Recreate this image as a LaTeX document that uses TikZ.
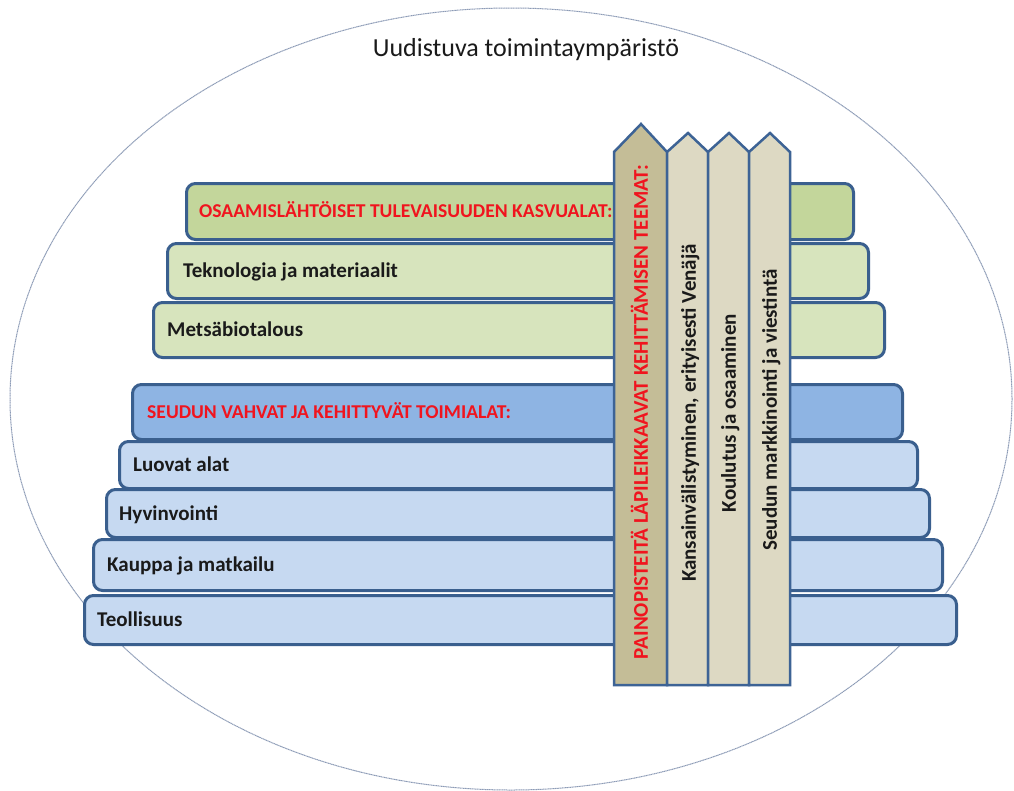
\documentclass[tikz,border=0pt]{standalone}
\usepackage{fontspec}
\setmainfont{Carlito}
\definecolor{gdark}{HTML}{C3D69B}
\definecolor{glight}{HTML}{D7E4BD}
\definecolor{bmid}{HTML}{8EB4E3}
\definecolor{blight}{HTML}{C6D9F1}
\definecolor{barline}{HTML}{3A5F8E}
\definecolor{pline}{HTML}{3D6395}
\definecolor{ptan}{HTML}{C4BD97}
\definecolor{plight}{HTML}{DDD9C3}
\definecolor{redtxt}{HTML}{F0141E}
\definecolor{ellcol}{HTML}{8C9BB6}
\definecolor{txt}{HTML}{1A1A1A}
\tikzset{
  barbox/.style={draw=barline, line width=3pt, rounded corners=9pt, anchor=north west, inner sep=0pt, minimum width=#1},
  lbl/.style={anchor=west, inner sep=0pt, text height=13.5pt, text depth=0pt, text=txt, font=\fontsize{21}{24}\selectfont\bfseries},
  redlbl/.style={lbl, text=redtxt, text height=12.8pt, font=\fontsize{19.6}{22}\selectfont\bfseries},
  pillar/.style={draw=pline, line width=2.5pt, line join=miter},
  vlbl/.style={rotate=90, inner sep=0pt, text height=13.5pt, text depth=0pt, text=txt, font=\fontsize{21}{24}\selectfont\bfseries},
  vred/.style={vlbl, text=redtxt},
}
\begin{document}
\begin{tikzpicture}[x=1pt,y=-1pt]
\useasboundingbox[fill=white] (0,0) rectangle (1014,790);
% environment ellipse
\draw[ellcol, line width=1pt, dash pattern=on 1.2pt off 0.5pt] (511,399) ellipse [x radius=501pt, y radius=391pt];
\node[inner sep=0pt, font=\fontsize{26}{30}\selectfont, text=txt] (title) at (526,50) {Uudistuva toimintaympäristö};
% bars
\node[barbox=667pt, minimum height=56pt, fill=gdark] (b1) at (185,182) {};
\node[barbox=701pt, minimum height=55pt, fill=glight] (b2) at (166,242) {};
\node[barbox=731pt, minimum height=55pt, fill=glight] (b3) at (152,301) {};
\node[barbox=770pt, minimum height=55pt, fill=bmid] (b4) at (131,383) {};
\node[barbox=798pt, minimum height=47pt, fill=blight] (b5) at (118,440) {};
\node[barbox=823pt, minimum height=48pt, fill=blight] (b6) at (105,488) {};
\node[barbox=849pt, minimum height=51pt, fill=blight] (b7) at (92,538) {};
\node[barbox=872pt, minimum height=49pt, fill=blight] (b8) at (83,594) {};
\node[redlbl] (t1) at ([xshift=14pt]b1.west) {OSAAMISLÄHTÖISET TULEVAISUUDEN KASVUALAT:};
\node[lbl] (t2) at ([xshift=17pt]b2.west) {Teknologia ja materiaalit};
\node[lbl] (t3) at ([xshift=15pt]b3.west) {Metsäbiotalous};
\node[redlbl] (t4) at ([xshift=16pt]b4.west) {SEUDUN VAHVAT JA KEHITTYVÄT TOIMIALAT:};
\node[lbl] (t5) at ([xshift=15pt]b5.west) {Luovat alat};
\node[lbl] (t6) at ([xshift=14pt]b6.west) {Hyvinvointi};
\node[lbl] (t7) at ([xshift=15pt]b7.west) {Kauppa ja matkailu};
\node[lbl] (t8) at ([xshift=14pt]b8.west) {Teollisuus};
% pillars
\draw[pillar, fill=ptan] (614,685) -- (614,152) -- (641,124) -- (667,152) -- (667,685) -- cycle;
\draw[pillar, fill=plight] (667,685) -- (667,152) -- (688,133) -- (708,152) -- (708,685) -- cycle;
\draw[pillar, fill=plight] (708,685) -- (708,152) -- (729,133) -- (749,152) -- (749,685) -- cycle;
\draw[pillar, fill=plight] (749,685) -- (749,152) -- (770,133) -- (790,152) -- (790,685) -- cycle;
\node[vred] (p1) at (641,412) {PAINOPISTEITÄ LÄPILEIKKAAVAT KEHITTÄMISEN TEEMAT:};
\node[vlbl] (p2) at (689,413) {Kansainvälistyminen, erityisesti Venäjä};
\node[vlbl] (p3) at (729,413) {Koulutus ja osaaminen};
\node[vlbl] (p4) at (770,410) {Seudun markkinointi ja viestintä};
\end{tikzpicture}
\end{document}
